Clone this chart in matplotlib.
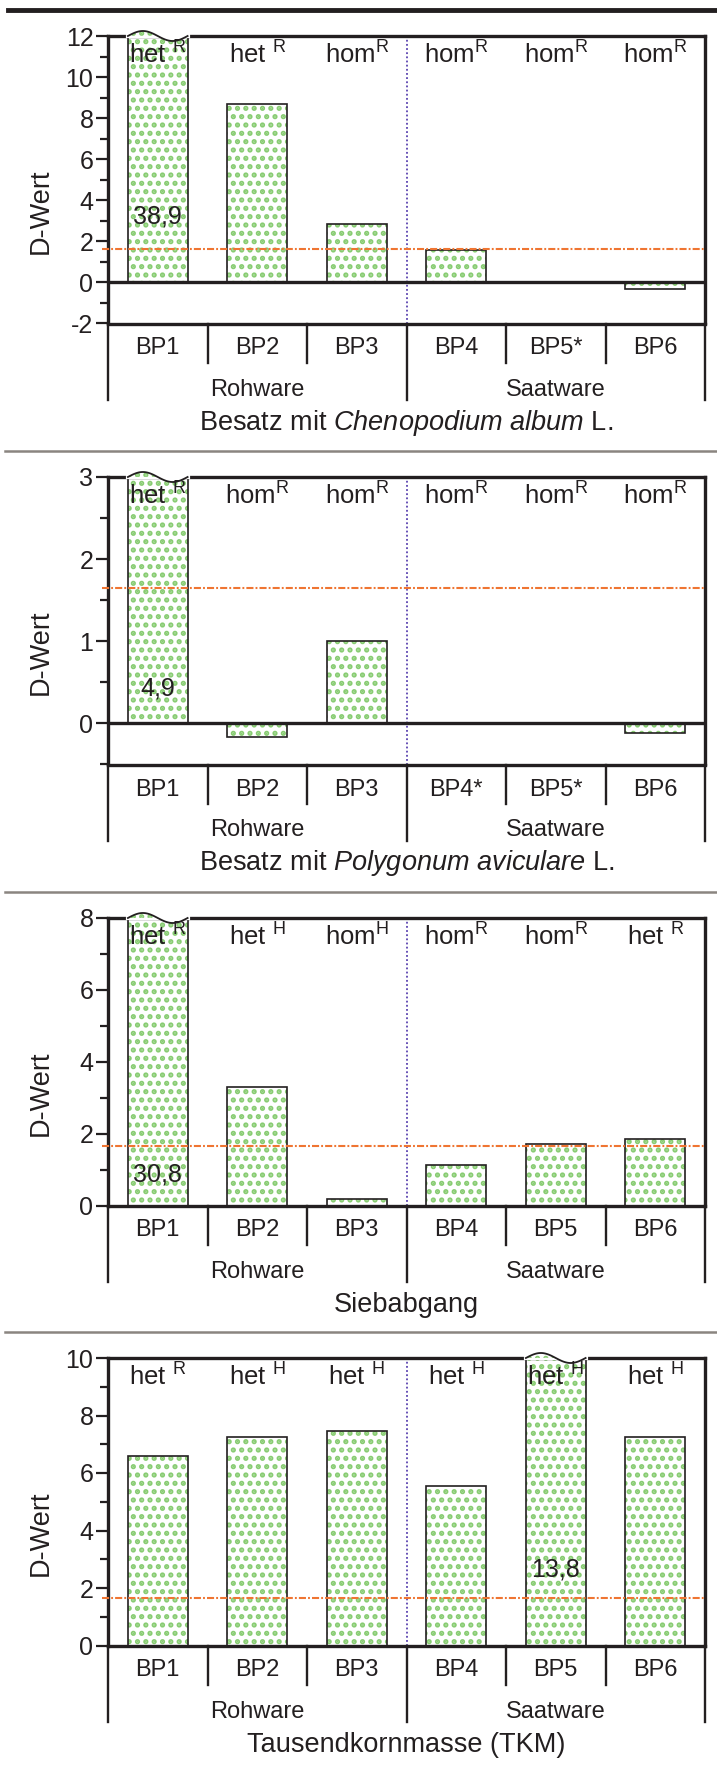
import numpy as np
import matplotlib
matplotlib.use('Agg')
import matplotlib.pyplot as plt
import matplotlib.transforms as mtransforms
from matplotlib.lines import Line2D
from matplotlib.patches import Polygon
from matplotlib import font_manager

plt.rcParams['font.family'] = ['Liberation Sans', 'DejaVu Sans']
plt.rcParams['mathtext.fontset'] = 'custom'
plt.rcParams['mathtext.rm'] = 'Liberation Sans'
plt.rcParams['mathtext.it'] = 'Liberation Sans:italic'
plt.rcParams['hatch.linewidth'] = 2.5
plt.rcParams['axes.unicode_minus'] = False

try:
    font_manager.findfont('Liberation Sans Narrow', fallback_to_default=False)
    narrow = 'Liberation Sans Narrow'
except ValueError:
    narrow = 'Liberation Sans'

# data
groups = ['Rohware', 'Saatware']
titles = [r'Besatz mit $\mathit{Chenopodium\ album}$ L.',
          r'Besatz mit $\mathit{Polygonum\ aviculare}$ L.',
          'Siebabgang',
          'Tausendkornmasse (TKM)']

labels_chen = ['BP1', 'BP2', 'BP3', 'BP4', 'BP5*', 'BP6']
labels_poly = ['BP1', 'BP2', 'BP3', 'BP4*', 'BP5*', 'BP6']
labels_sieb = ['BP1', 'BP2', 'BP3', 'BP4', 'BP5', 'BP6']
labels_tkm = ['BP1', 'BP2', 'BP3', 'BP4', 'BP5', 'BP6']

d_chen = [38.9, 8.67, 2.83, 1.56, np.nan, -0.3]
d_poly = [4.9, -0.17, 1.0, np.nan, np.nan, -0.12]
d_sieb = [30.8, 3.3, 0.17, 1.13, 1.72, 1.86]
d_tkm = [6.58, 7.24, 7.46, 5.56, 13.8, 7.24]

type_chen = ['het', 'het', 'hom', 'hom', 'hom', 'hom']
sup_chen = ['R', 'R', 'R', 'R', 'R', 'R']
type_poly = ['het', 'hom', 'hom', 'hom', 'hom', 'hom']
sup_poly = ['R', 'R', 'R', 'R', 'R', 'R']
type_sieb = ['het', 'het', 'hom', 'hom', 'hom', 'het']
sup_sieb = ['R', 'H', 'H', 'R', 'R', 'R']
type_tkm = ['het', 'het', 'het', 'het', 'het', 'het']
sup_tkm = ['R', 'H', 'H', 'H', 'H', 'H']

d_crit = 1.65

green = '#88cc72'
ink = '#231f20'
AXH = 287.5  # axes height in px


def draw_wave(ax, xc, w=0.6):
    tr = mtransforms.blended_transform_factory(ax.transData, ax.transAxes)
    t = np.linspace(0, 1, 80)
    xs = xc - w / 2 + w * t
    ys = 1 + (5.0 / AXH) * np.sin(2 * np.pi * t)
    ax.plot([xc - w / 2, xc + w / 2], [1, 1], transform=tr, color='white',
            lw=3, clip_on=False, zorder=5)
    up = t <= 0.5
    bump = np.column_stack([xs[up], ys[up]])
    ax.add_patch(Polygon(bump, closed=True, transform=tr, facecolor='white',
                         edgecolor=green, hatch='..', lw=0, clip_on=False, zorder=5))
    dn = t >= 0.5
    dip = np.column_stack([xs[dn], ys[dn]])
    ax.add_patch(Polygon(dip, closed=True, transform=tr, facecolor='white',
                         edgecolor='none', lw=0, clip_on=False, zorder=5))
    ax.plot(xs, ys, transform=tr, color=ink, lw=1.3, clip_on=False, zorder=6)


def draw_panel(ax, values, ticklabels, types, sups, title, ylim, major, minor, num_y):
    values = np.array(values, dtype=float)
    x = np.arange(len(values))
    shown = np.clip(values, ylim[0], ylim[1])
    ax.bar(x, shown, width=0.6, color='white', edgecolor=green, hatch='..',
           linewidth=0, zorder=2)
    ax.bar(x, shown, width=0.6, color='none', edgecolor=ink, linewidth=1.2, zorder=3)

    if ylim[0] < 0:
        ax.axhline(0, color=ink, lw=2.4, zorder=4)
    ax.axvline(2.5, color='#5a43b0', lw=1.3, ls=(0, (1, 1.3)), zorder=1)
    ax.axhline(d_crit, xmin=-0.01, xmax=1, color='#ef7532', lw=1.5,
               dashes=(3.4, 1.0, 0.9, 1.0), clip_on=False, zorder=4)

    ax.set_xlim(-0.5, len(values) - 0.5)
    ax.set_ylim(*ylim)
    ax.set_yticks(np.arange(ylim[0] if ylim[0] % major == 0 else 0, ylim[1] + 0.01, major))
    ax.set_yticks(np.arange(ylim[0], ylim[1] + 0.01, minor), minor=True)
    ax.set_xticks([])
    ax.tick_params(axis='y', which='major', length=9, width=1.6, labelsize=18,
                   pad=1.5, colors=ink)
    ax.tick_params(axis='y', which='minor', length=6, width=1.6, colors=ink)
    for s in ax.spines.values():
        s.set_linewidth(2.4)
        s.set_color(ink)

    ax.text(-0.112, 0.39, 'D-Wert', rotation=90, ha='center', va='center',
            transform=ax.transAxes, fontsize=19.5, color=ink)

    tr = mtransforms.blended_transform_factory(ax.transData, ax.transAxes)
    # het / hom marks
    for i, (tp, sp) in enumerate(zip(types, sups)):
        gap = ' ' if tp == 'het' else ''
        ax.text(i, 1 - 19 / AXH, tp + gap + r'$^{\mathregular{' + sp + '}}$',
                transform=tr, ha='center', va='center', fontsize=18.5,
                family=narrow, color=ink, zorder=7)
    # truncated bars
    for i, v in enumerate(values):
        if v > ylim[1]:
            draw_wave(ax, i)
            ax.text(i, num_y, f'{v:.1f}'.replace('.', ','), ha='center',
                    va='center', fontsize=18, family=narrow, color=ink, zorder=7)

    # category axis below
    for i, lab in enumerate(ticklabels):
        ax.text(i, -25 / AXH, lab, transform=tr, ha='center', va='center',
                fontsize=17, family=narrow, color=ink)
    for b in [0.5, 1.5, 3.5, 4.5]:
        ax.plot([b, b], [0, -39 / AXH], transform=tr, color=ink, lw=1.7, clip_on=False)
    for b in [-0.5, 2.5, len(values) - 0.5]:
        ax.plot([b, b], [0, -76 / AXH], transform=tr, color=ink, lw=1.7, clip_on=False)
    ax.text(1, -66 / AXH, groups[0], transform=tr, ha='center', va='center',
            fontsize=17, family=narrow, color=ink)
    ax.text(4, -66 / AXH, groups[1], transform=tr, ha='center', va='center',
            fontsize=17, family=narrow, color=ink)
    ax.text(2.5, -99 / AXH, title, transform=tr, ha='center', va='center',
            fontsize=19.5, color=ink)


fig = plt.figure(figsize=(7.17, 17.66), dpi=100)
H = 1766.0
W = 717.0
tops = [36, 477, 918, 1358]
axes = []
for tp in tops:
    axes.append(fig.add_axes([108 / W, 1 - (tp + AXH) / H, 597 / W, AXH / H]))

draw_panel(axes[0], d_chen, labels_chen, type_chen, sup_chen, titles[0],
           (-2, 12), 2, 1, 3.2)
draw_panel(axes[1], d_poly, labels_poly, type_poly, sup_poly, titles[1],
           (-0.5, 3), 1, 0.5, 0.43)
draw_panel(axes[2], d_sieb, labels_sieb, type_sieb, sup_sieb, titles[2],
           (0, 8), 2, 1, 0.86)
draw_panel(axes[3], d_tkm, labels_tkm, type_tkm, sup_tkm, titles[3],
           (0, 10), 2, 1, 2.64)

fig.add_artist(Line2D([8 / W, 1], [1 - 10 / H, 1 - 10 / H], color=ink, lw=3.5))
for yy in [451, 892, 1332]:
    fig.add_artist(Line2D([5 / W, 1], [1 - yy / H, 1 - yy / H], color='#8a8580', lw=1.8))

fig.savefig('out.png', dpi=100)
